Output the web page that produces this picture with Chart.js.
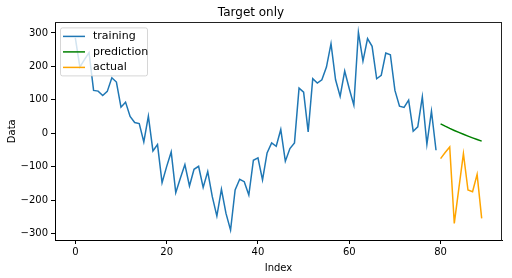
<!DOCTYPE html>
<html>
<head>
<meta charset="utf-8">
<script src="https://cdn.jsdelivr.net/npm/chart.js@4/dist/chart.umd.min.js"></script>
<style>
  html, body { margin: 0; padding: 0; background: #fff; }
</style>
</head>
<body>
<canvas id="myChart" width="512" height="278"></canvas>
<script>
const trainingValues = [285, 198, 220, 241, 128, 126, 113, 125, 166, 153,
  78, 93, 50, 32, 29, -26, 51, -53, -34, -148,
  -100, -56, -178, -135, -94, -158, -108, -99, -162, -115,
  -190, -248, -168, -240, -290, -170, -138, -145, -185, -81,
  -74, -140, -59, -29, -39, 11, -84, -46, -29, 135,
  123, 4, 163, 150, 160, 198, 268, 160, 110, 186,
  133, 84, 302, 216, 283, 260, 163, 173, 240, 235,
  128, 81, 77, 99, 6, 19, 109, -33, 66, -51];
const predictionValues = [28, 21, 14.4, 8.2, 2.3, -3.3, -8.7, -13.9, -18.9, -23.7];
const actualValues = [-76, -58, -41, -270, -165, -61, -170, -175, -123, -255];
const forecastStart = 80;
const xTicks = [0, 20, 40, 60, 80];
const yTicks = [-300, -200, -100, 0, 100, 200, 300];

const toPoints = (vals, start) => vals.map((v, i) => ({x: start + i, y: v}));

// closes the box on the top and right sides
const boxFrame = {
  id: 'boxFrame',
  afterDraw(chart) {
    const {ctx, chartArea: a} = chart;
    const l = Math.round(a.left), r = Math.round(a.right);
    const t = Math.round(a.top), b = Math.round(a.bottom);
    ctx.save();
    ctx.fillStyle = '#222';
    ctx.fillRect(l, t, r - l, 1);
    ctx.fillRect(r - 1, t, 1, b - t + 1);
    ctx.restore();
  }
};

// legend drawn inside the plot, upper left like matplotlib
const insideLegend = {
  id: 'insideLegend',
  afterDraw(chart) {
    const {ctx, chartArea: a} = chart;
    const x0 = a.left + 5, y0 = a.top + 5;
    const w = 87, h = 48;
    ctx.save();
    ctx.fillStyle = 'rgba(255,255,255,0.8)';
    ctx.strokeStyle = 'rgba(204,204,204,0.8)';
    ctx.lineWidth = 1;
    ctx.beginPath();
    ctx.roundRect(x0 + 0.5, y0 + 0.5, w, h, 2);
    ctx.fill();
    ctx.stroke();
    ctx.font = '11px "DejaVu Sans"';
    ctx.textBaseline = 'middle';
    chart.data.datasets.forEach((ds, i) => {
      const y = y0 + 9 + i * 15.5;
      ctx.strokeStyle = ds.borderColor;
      ctx.lineWidth = 1.5;
      ctx.beginPath();
      ctx.moveTo(x0 + 3, y);
      ctx.lineTo(x0 + 25, y);
      ctx.stroke();
      ctx.fillStyle = '#000';
      ctx.fillText(ds.label, x0 + 33, y);
    });
    ctx.restore();
  }
};

const tickFont = {family: 'DejaVu Sans', size: 10};

const config = {
  type: 'line',
  data: {
    datasets: [
      {
        label: 'training',
        data: toPoints(trainingValues, 0),
        borderColor: '#1f77b4',
      },
      {
        label: 'prediction',
        data: toPoints(predictionValues, forecastStart),
        borderColor: '#008000',
      },
      {
        label: 'actual',
        data: toPoints(actualValues, forecastStart),
        borderColor: '#ffa500',
      }
    ]
  },
  options: {
    responsive: false,
    animation: false,
    devicePixelRatio: 1,
    layout: {padding: {left: 0, right: 10, top: 0, bottom: 0}},
    elements: {
      line: {borderWidth: 1.5, tension: 0, fill: false},
      point: {radius: 0}
    },
    plugins: {
      legend: {display: false},
      tooltip: {enabled: false},
      title: {
        display: true,
        text: 'Target only',
        color: '#000',
        font: {family: 'DejaVu Sans', size: 12, weight: 'normal'},
        padding: {top: 6, bottom: 2}
      }
    },
    scales: {
      x: {
        type: 'linear',
        min: -4.45,
        max: 93.45,
        afterBuildTicks: (s) => { s.ticks = xTicks.map(v => ({value: v})); },
        afterFit: (s) => { s.height = 38; },
        grid: {display: true, drawOnChartArea: false, drawTicks: true, tickLength: 4, color: '#000'},
        border: {display: true, color: '#000'},
        ticks: {color: '#000', font: tickFont, padding: 2, maxRotation: 0},
        title: {display: true, text: 'Index', color: '#000', font: tickFont, padding: {top: 2, bottom: 4}}
      },
      y: {
        min: -319.6,
        max: 331.6,
        afterBuildTicks: (s) => { s.ticks = yTicks.map(v => ({value: v})); },
        afterFit: (s) => { s.width = 55; },
        grid: {display: true, drawOnChartArea: false, drawTicks: true, tickLength: 4, color: '#000'},
        border: {display: true, color: '#000'},
        ticks: {
          color: '#000',
          font: tickFont,
          padding: 3,
          callback: (v) => String(v).replace('-', '\u2212')
        },
        title: {display: true, text: 'Data', color: '#000', font: tickFont, padding: {top: 6, bottom: 2}}
      }
    }
  },
  plugins: [boxFrame, insideLegend]
};

const myChart = new Chart(document.getElementById('myChart').getContext('2d'), config);
</script>
</body>
</html>
